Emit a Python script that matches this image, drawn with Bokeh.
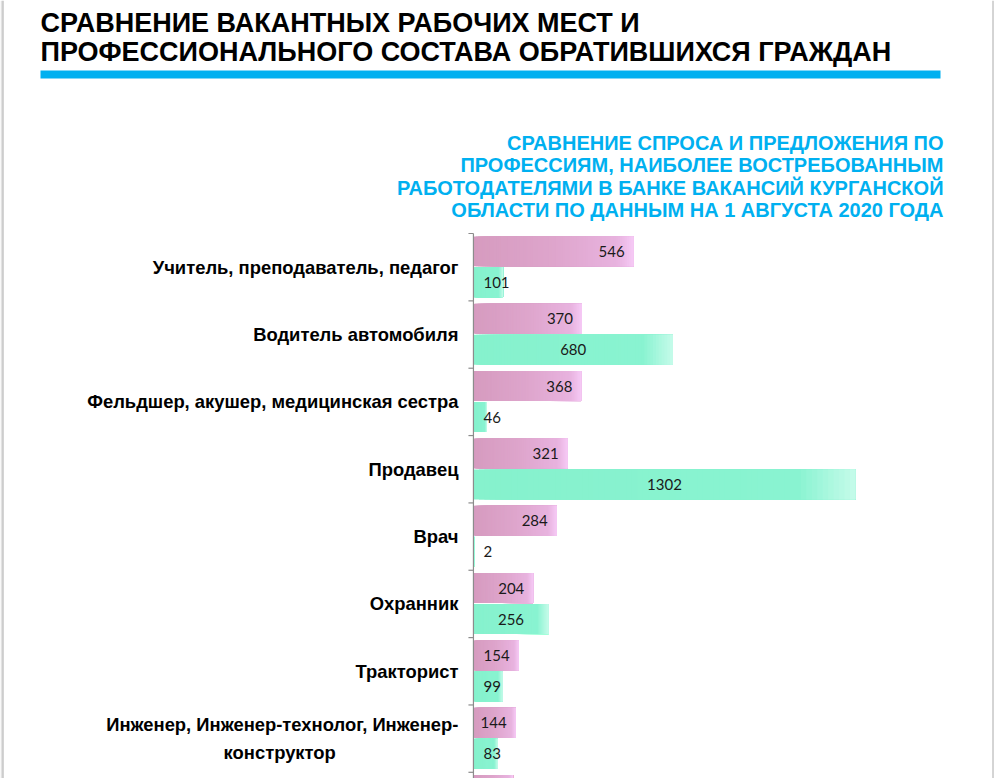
from bokeh.plotting import figure
from bokeh.models import Range1d, ColumnDataSource
from bokeh.core.properties import value
from bokeh.embed import file_html
from bokeh.resources import INLINE

# ---------------- data ----------------
title_lines = ["СРАВНЕНИЕ ВАКАНТНЫХ РАБОЧИХ МЕСТ И",
               "ПРОФЕССИОНАЛЬНОГО СОСТАВА ОБРАТИВШИХСЯ ГРАЖДАН"]
subtitle_lines = ["СРАВНЕНИЕ СПРОСА И ПРЕДЛОЖЕНИЯ ПО",
                  "ПРОФЕССИЯМ, НАИБОЛЕЕ ВОСТРЕБОВАННЫМ",
                  "РАБОТОДАТЕЛЯМИ В БАНКЕ ВАКАНСИЙ КУРГАНСКОЙ",
                  "ОБЛАСТИ ПО ДАННЫМ НА 1 АВГУСТА 2020 ГОДА"]
professions = ["Учитель, преподаватель, педагог",
               "Водитель автомобиля",
               "Фельдшер, акушер, медицинская сестра",
               "Продавец",
               "Врач",
               "Охранник",
               "Тракторист",
               "Инженер, Инженер-технолог, Инженер-\nконструктор" + "\u00a0" * 24,
               ""]
vacancies = [546, 370, 368, 321, 284, 204, 154, 144, 135]
job_seekers = [101, 680, 46, 1302, 2, 256, 99, 83, None]

BLUE = "#00b0f0"
W, H = 994, 778
n = len(professions)
n_shown = 8          # categories whose labels are inside the window
idx = list(range(n))

# one frame over the whole canvas: value axis with 0 at the category axis
p = figure(width=W, height=H, x_range=Range1d(-1612, 1776), y_range=Range1d(7.592, -3.96),
           toolbar_location=None, output_backend="svg", min_border=0,
           x_axis_location=None, y_axis_location=None)
p.outline_line_color = None
p.xgrid.visible = False
p.ygrid.visible = False
p.background_fill_color = "white"
# pixel ranges for the page header / page edges
p.extra_x_ranges = {"px": Range1d(0, W)}
p.extra_y_ranges = {"px": Range1d(H, 0)}

# page edges of the document viewer
p.quad(left=[0], right=[2], top=[0], bottom=[H], x_range_name="px", y_range_name="px",
       fill_color="#e2e2e2", line_color=None)
p.segment(x0=[2.5, 992.5], y0=[0, 0], x1=[2.5, 992.5], y1=[H, H],
          x_range_name="px", y_range_name="px", line_color="#aaaaaa", line_width=1)

# ---------------- header ----------------
p.text(x=[40, 40], y=[22, 51], text=title_lines, x_range_name="px", y_range_name="px",
       text_font=value("Liberation Sans"), text_font_style="bold", text_font_size="27px",
       text_color="black", text_baseline="middle", text_align="left")
p.quad(left=[40], right=[940], top=[70], bottom=[78], x_range_name="px", y_range_name="px",
       fill_color=BLUE, line_color=None)
p.text(x=[943] * 4, y=[142, 164.5, 187, 209.5], text=subtitle_lines,
       x_range_name="px", y_range_name="px",
       text_font=value("Liberation Sans"), text_font_style="bold", text_font_size="20px",
       text_color=BLUE, text_baseline="middle", text_align="right")


# ---------------- bars ----------------
def lerp(c1, c2, t):
    a = [int(c1[i:i + 2], 16) for i in (1, 3, 5)]
    b = [int(c2[i:i + 2], 16) for i in (1, 3, 5)]
    return "#%02x%02x%02x" % tuple(round(a[k] + (b[k] - a[k]) * t) for k in range(3))


def gradient_bars(vals, yoff, stops):
    # each bar = overlapping slices (from t0 to the bar end) imitating a gradient fill
    N = 70
    L, R, Y, C = [], [], [], []
    for i, v in enumerate(vals):
        if v is None:
            continue
        for k in range(N):
            t0 = k / N
            tm = (k + 0.5) / N
            col = stops[-1][1]
            for j in range(len(stops) - 1):
                if stops[j][0] <= tm <= stops[j + 1][0]:
                    u = (tm - stops[j][0]) / (stops[j + 1][0] - stops[j][0])
                    col = lerp(stops[j][1], stops[j + 1][1], u)
                    break
            L.append(v * t0)
            R.append(v)
            Y.append(i + yoff)
            C.append(col)
    src = ColumnDataSource(dict(left=L, right=R, y=Y, color=C))
    p.hbar(y="y", left="left", right="right", height=0.445, fill_color="color",
           line_color=None, source=src)


PINK_OFF, GREEN_OFF = -0.235, 0.225
pink_stops = [(0, "#d69bbf"), (0.5, "#dea5cc"), (0.9, "#e8b3df"), (1.0, "#f6caf6")]
green_stops = [(0, "#86f2cd"), (0.85, "#89f3d1"), (1.0, "#c6fbea")]
gradient_bars(vacancies, PINK_OFF, pink_stops)
gradient_bars(job_seekers, GREEN_OFF, green_stops)

# ---------------- data labels ----------------
lab_font = value("Lato")
p.text(x=vacancies[:n_shown], y=[i + PINK_OFF for i in idx[:n_shown]],
       text=[str(v) for v in vacancies[:n_shown]],
       text_font=lab_font, text_font_size="15px", text_color="#1a1a1a",
       text_align="right", text_baseline="middle", x_offset=-9)

gv = [(i, v) for i, v in enumerate(job_seekers[:n_shown]) if v is not None]
small = [(i, v) for i, v in gv if v < 130]
large = [(i, v) for i, v in gv if v >= 130]
p.text(x=[v / 2 for i, v in large], y=[i + GREEN_OFF for i, v in large],
       text=[str(v) for i, v in large], text_font=lab_font, text_font_size="15px",
       text_color="#1a1a1a", text_align="center", text_baseline="middle")
p.text(x=[0 for i, v in small], y=[i + GREEN_OFF for i, v in small],
       text=[str(v) for i, v in small], text_font=lab_font, text_font_size="15px",
       text_color="#1a1a1a", text_align="left", text_baseline="middle", x_offset=10)

# ---------------- category axis ----------------
AX_COL = "#8c8c8c"
p.segment(x0=[0], y0=[-0.5], x1=[0], y1=[n - 0.5], line_color=AX_COL, line_width=1.2)
p.ray(x=[0] * (n + 1), y=[i - 0.5 for i in range(n + 1)], length=5, length_units="screen",
      angle=180, angle_units="deg", line_color=AX_COL, line_width=1.2)
p.text(x=[0] * n_shown, y=idx[:n_shown], text=professions[:n_shown], x_offset=-15,
       text_font=value("Liberation Sans"), text_font_style="bold", text_font_size="18.4px",
       text_color="black", text_align="right", text_baseline="middle", text_line_height=1.3)

open("out.html", "w").write(file_html(p, INLINE))
